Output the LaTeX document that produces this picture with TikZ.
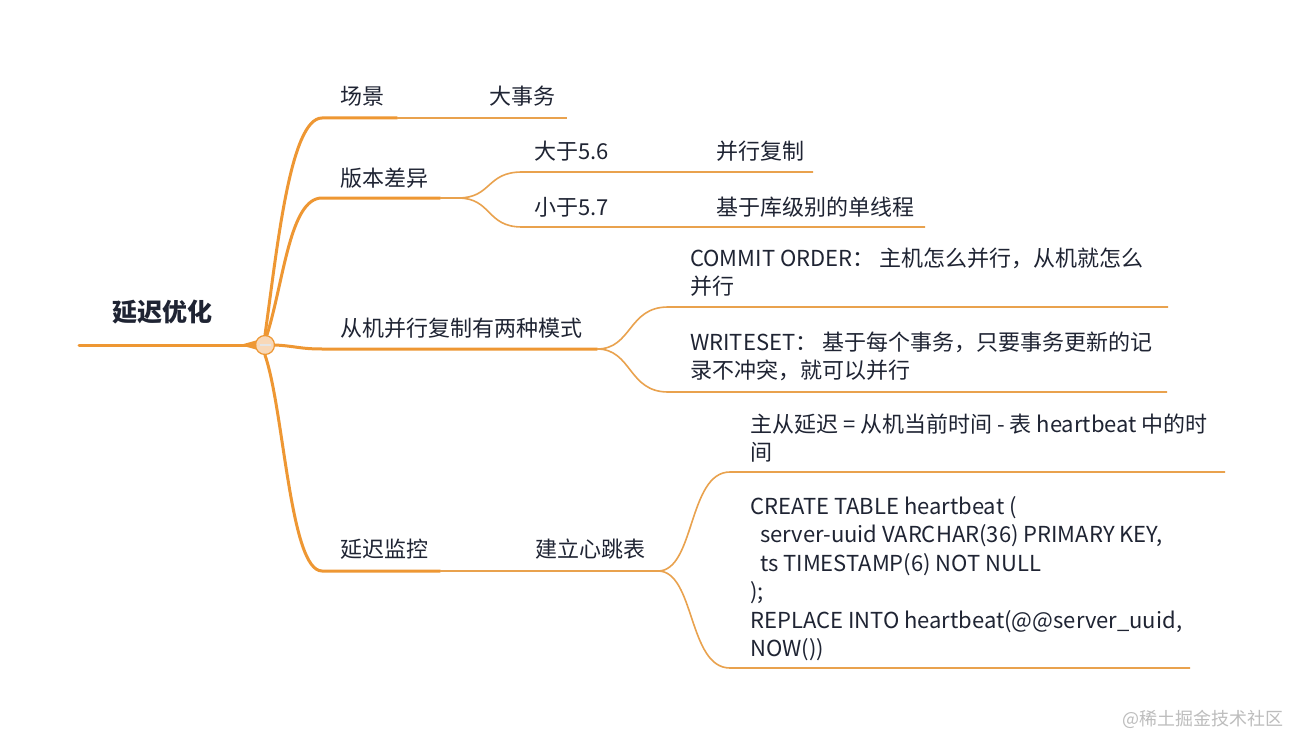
\documentclass[tikz,border=0pt]{standalone}
\usepackage{fontspec}
\setmainfont{Noto Sans CJK SC}
\definecolor{brc}{HTML}{EE9733}
\definecolor{thc}{HTML}{E9A24E}
\definecolor{circ}{HTML}{F8D8B8}
\definecolor{txt}{HTML}{1F2433}
\definecolor{wm}{HTML}{BDBDBD}
\begin{document}
\begin{tikzpicture}[x=1pt,y=-1pt,
  mainbranch/.style={draw=brc, line width=3pt, line cap=round},
  subbranch/.style={draw=thc, line width=1.6pt},
  lbl/.style={anchor=base west, inner sep=0pt, text=txt, font=\fontsize{22}{28.5}\selectfont, align=left}]
\useasboundingbox[fill=white] (0,0) rectangle (1304,749);

% root
\node[anchor=base west, inner sep=0pt, text=txt, font=\fontsize{25}{25}\selectfont\bfseries] (root) at (112,321) {延迟优化};
\coordinate (r0) at (79,345);
\node[circle, draw=brc, fill=circ, line width=1.2pt, minimum size=19pt, inner sep=0pt] (hub) at (265,345) {};
\draw[mainbranch] (r0) -- (hub.west);
\fill[brc] (240,345) -- (256,340.5) -- (256,349.5) -- cycle;
\draw[white!80!gray, line width=1.8pt] ([xshift=-5.5pt]hub.center) -- ([xshift=5.5pt]hub.center);

% branch 1
\coordinate (b1) at (322,118);
\coordinate (b1e) at (397,118);
\coordinate (b1f) at (567,118);
\draw[mainbranch] (hub.north) .. controls (277,250) and (290,118) .. (b1) -- (b1e);
\draw[subbranch] (b1e) -- (b1f);
\node[lbl] (n1) at (340,105) {场景};
\node[lbl] (n11) at (489,105) {大事务};

% branch 2
\coordinate (b2) at (322,198);
\coordinate (b2e) at (440,198);
\coordinate (b2s) at (458,198);
\coordinate (b21) at (522,172);
\coordinate (b21e) at (813,172);
\coordinate (b22) at (522,227);
\coordinate (b22e) at (925,227);
\draw[mainbranch] ([xshift=2pt]hub.north) .. controls (284,280) and (290,198) .. (b2) -- (b2e);
\draw[subbranch] (b2e) -- (b2s) .. controls (492,198) and (486,172) .. (b21) -- (b21e);
\draw[subbranch] (b2s) .. controls (492,198) and (486,227) .. (b22) -- (b22e);
\node[lbl] (n2) at (340,186) {版本差异};
\node[lbl] (n21) at (534,160) {大于5.6};
\node[lbl] (n211) at (716,160) {并行复制};
\node[lbl] (n22) at (534,215) {小于5.7};
\node[lbl] (n221) at (716,215) {基于库级别的单线程};

% branch 3
\coordinate (b3) at (322,349);
\coordinate (b3e) at (597,349);
\coordinate (b31) at (668,307);
\coordinate (b31e) at (1168,307);
\coordinate (b32) at (668,392);
\coordinate (b32e) at (1167,392);
\draw[mainbranch] (hub.east) .. controls (295,346) and (300,349) .. (b3) -- (b3e);
\draw[subbranch] (b3e) .. controls (632,349) and (628,307) .. (b31) -- (b31e);
\draw[subbranch] (b3e) .. controls (632,349) and (628,392) .. (b32) -- (b32e);
\node[lbl] (n3) at (340,336) {从机并行复制有两种模式};
\node[lbl] (n31) at (690,294.5) {COMMIT ORDER： 主机怎么并行，从机就怎么\\并行};
\node[lbl] (n32) at (690,378.5) {WRITESET： 基于每个事务，只要事务更新的记\\录不冲突，就可以并行};

% branch 4
\coordinate (b4) at (322,571);
\coordinate (b4e) at (440,571);
\coordinate (b4s) at (658,571);
\coordinate (b41) at (730,472);
\coordinate (b41e) at (1225,472);
\coordinate (b42) at (730,668);
\coordinate (b42e) at (1190,668);
\draw[mainbranch] (hub.south) .. controls (284,410) and (290,571) .. (b4) -- (b4e);
\draw[subbranch] (b4e) -- (b4s) .. controls (695,571) and (688,472) .. (b41) -- (b41e);
\draw[subbranch] (b4s) .. controls (695,571) and (688,668) .. (b42) -- (b42e);
\node[lbl] (n4) at (340,557) {延迟监控};
\node[lbl] (n41) at (535,557) {建立心跳表};
\node[lbl] (n411) at (750,460.5) {主从延迟 = 从机当前时间 - 表 heartbeat 中的时\\间};
\node[lbl] (n412) at (750,656.5) {CREATE TABLE heartbeat (\\\hspace*{10pt}server-uuid VARCHAR(36) PRIMARY KEY,\\\hspace*{10pt}ts TIMESTAMP(6) NOT NULL\\);\\REPLACE INTO heartbeat(@@server\_uuid,\\NOW())};

% watermark
\node[anchor=base west, inner sep=0pt, text=wm, font=\fontsize{18}{18}\selectfont] (wmk) at (1122,725) {@稀土掘金技术社区};
\end{tikzpicture}
\end{document}
